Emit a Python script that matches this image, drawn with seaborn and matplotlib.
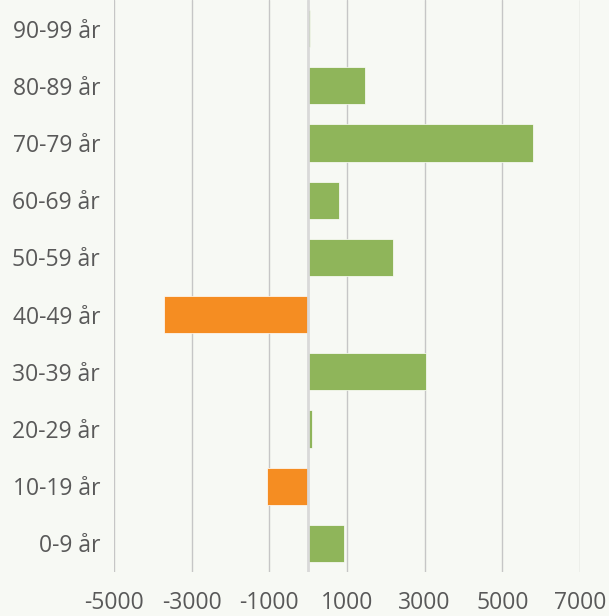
import numpy as np
import pandas as pd
import matplotlib
matplotlib.use('Agg')
import matplotlib.pyplot as plt
import seaborn as sns

# ── Data (change per age group) ───────────────────────────────
age_groups = ['0-9 år', '10-19 år', '20-29 år', '30-39 år', '40-49 år',
              '50-59 år', '60-69 år', '70-79 år', '80-89 år', '90-99 år']
changes = [935, -1055, 110, 3040, -3725, 2190, 800, 5785, 1475, 50]
x_ticks = [-5000, -3000, -1000, 1000, 3000, 5000, 7000]

# ── Colours ───────────────────────────────────────────────────
BG     = '#F7F9F4'
GREEN  = '#8FB55A'
ORANGE = '#F58D22'
TEXT   = '#595959'
GRID   = '#C6C6C6'

df = pd.DataFrame({'age': age_groups, 'change': changes})
df['sign'] = np.where(df['change'] < 0, 'minus', 'plus')

sns.set_style('white')
plt.rcParams['font.family'] = ['Open Sans', 'DejaVu Sans']

fig = plt.figure(figsize=(6.09, 6.16), dpi=100, facecolor=BG)
ax = fig.add_axes([114 / 609, 44 / 616, 466 / 609, 572 / 616])
ax.set_facecolor(BG)

sns.barplot(
    data=df, x='change', y='age', hue='sign',
    order=age_groups[::-1],
    palette={'plus': GREEN, 'minus': ORANGE}, saturation=1,
    orient='h', width=0.65, dodge=False, legend=False,
    edgecolor='#FFFFFF', linewidth=0.5, ax=ax, zorder=2
)

ax.set_xlim(-5000, 7000)
ax.set_ylim(9.5, -0.5)
ax.set_xticks(x_ticks)
ax.set_xticklabels([str(t) for t in x_ticks])
ax.grid(axis='x', color=GRID, lw=1)
ax.grid(axis='y', visible=False)
ax.set_axisbelow(True)
ax.axvline(0, color='#D9D9D9', lw=2, zorder=3)

for s in ax.spines.values():
    s.set_visible(False)

ax.set_xlabel('')
ax.set_ylabel('')
ax.tick_params(axis='x', length=0, pad=14, labelsize=16.5, colors=TEXT)
ax.tick_params(axis='y', length=0, pad=10, labelsize=16.5, colors=TEXT)

fig.savefig('out.png', dpi=100, facecolor=BG)
